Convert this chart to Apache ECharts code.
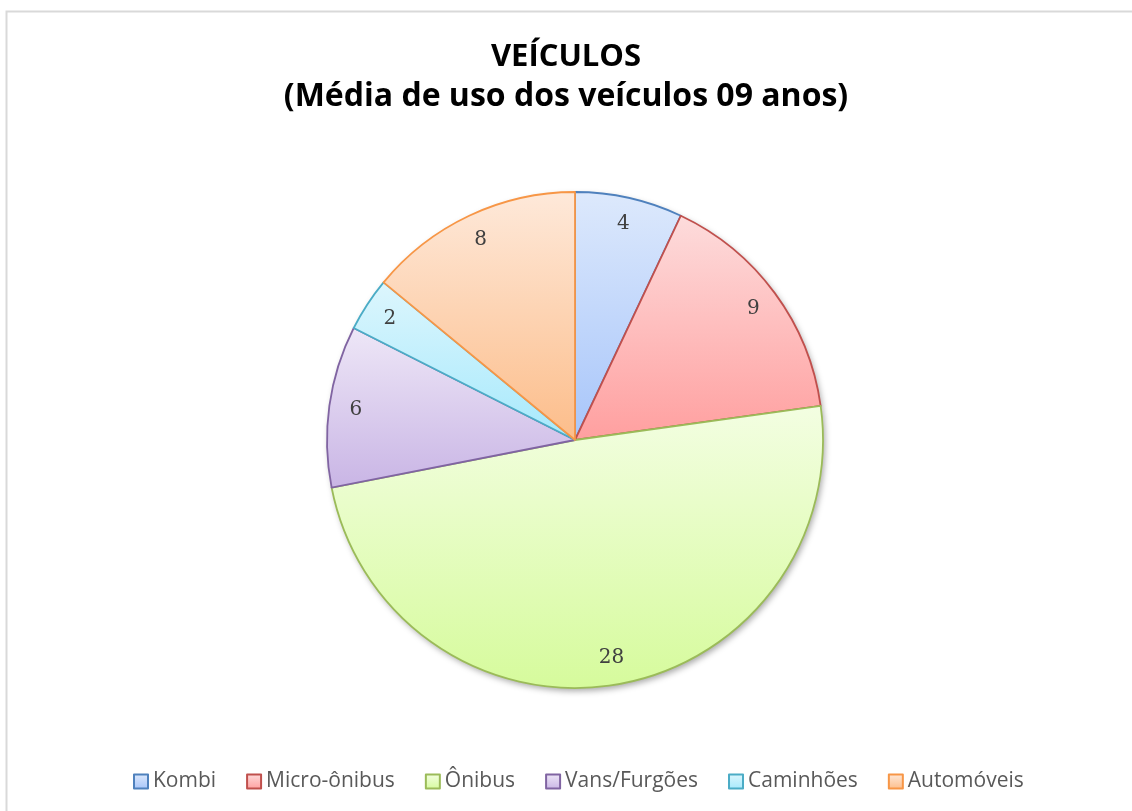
<!DOCTYPE html>
<html>
<head>
<meta charset="utf-8">
<title>Veículos</title>
<script src="https://cdn.jsdelivr.net/npm/echarts@6/dist/echarts.min.js"></script>
<style>
    html, body { margin: 0; padding: 0; background: #fff; }
    #chart { width: 1132px; height: 811px; }
</style>
</head>
<body>
<div id="chart"></div>
<script>
// dados do gráfico
var categorias = ['Kombi', 'Micro-ônibus', 'Ônibus', 'Vans/Furgões', 'Caminhões', 'Automóveis'];
var valores = [4, 9, 28, 6, 2, 8];

// cores (topo, base, borda) no estilo do Excel
var corTopo = ['#dde9fc', '#fddcdc', '#f3fee2', '#eee7f7', '#ddf6fd', '#fee9da'];
var corBase = ['#a7c5fa', '#ff9f9f', '#d6fb9c', '#c9b5e5', '#a6e9fc', '#fcbd8a'];
var corBorda = ['#4f81bd', '#c0504d', '#9bbb59', '#8064a2', '#4bacc6', '#f79646'];

var dom = document.getElementById('chart');
var myChart = echarts.init(dom);

var centro = [575, 440];
var raio = 248;

var dados = categorias.map(function (nome, i) {
    return {
        name: nome,
        value: valores[i],
        itemStyle: {
            color: new echarts.graphic.LinearGradient(0, 0, 0, 1, [
                {offset: 0, color: corTopo[i]},
                {offset: 1, color: corBase[i]}
            ]),
            borderColor: corBorda[i],
            borderWidth: 1.8
        }
    };
});

var option = {
    animation: false,
    title: {
        text: '{a|VEÍCULOS}\n{b|(Média de uso dos veículos 09 anos)}',
        left: 'center',
        top: 32,
        textStyle: {
            rich: {
                a: {fontFamily: 'Open Sans', fontWeight: 'bold', fontSize: 31, lineHeight: 40, color: '#000'},
                b: {fontFamily: 'Open Sans', fontWeight: 'bold', fontSize: 32, lineHeight: 40, color: '#000'}
            }
        }
    },
    legend: {
        data: categorias,
        bottom: 14,
        left: 128,
        icon: 'rect',
        itemWidth: 14,
        itemHeight: 14,
        itemGap: 30,
        textStyle: {
            fontFamily: 'Open Sans',
            fontSize: 21,
            color: '#595959'
        }
    },
    graphic: [{
        type: 'rect',
        left: 4,
        top: 9,
        silent: true,
        shape: {width: 1200, height: 900},
        style: {fill: 'none', stroke: '#d9d9d9', lineWidth: 2}
    }],
    series: [
        {
            name: 'Veículos',
            type: 'pie',
            center: centro,
            radius: raio,
            startAngle: 90,
            z: 2,
            label: {show: false},
            labelLine: {show: false},
            data: dados
        },
        {
            // base com sombra
            type: 'pie',
            center: centro,
            radius: raio,
            startAngle: 90,
            silent: true,
            z: 1,
            label: {show: false},
            labelLine: {show: false},
            itemStyle: {
                color: '#fff',
                shadowBlur: 6,
                shadowOffsetX: 2,
                shadowOffsetY: 3,
                shadowColor: 'rgba(0,0,0,0.35)'
            },
            data: valores.map(function (v, i) { return {name: categorias[i], value: v}; })
        },
        {
            // anel transparente só para posicionar os rótulos
            type: 'pie',
            center: centro,
            radius: [raio * 0.76, raio],
            startAngle: 90,
            silent: true,
            z: 3,
            itemStyle: {color: 'rgba(0,0,0,0)'},
            label: {
                show: true,
                position: 'inside',
                formatter: '{c}',
                fontFamily: 'DejaVu Serif',
                fontSize: 20,
                color: '#404040'
            },
            labelLine: {show: false},
            data: valores.map(function (v, i) { return {name: categorias[i], value: v}; })
        }
    ]
};

if (option && typeof option === 'object') {
    myChart.setOption(option, true);
}
</script>
</body>
</html>
